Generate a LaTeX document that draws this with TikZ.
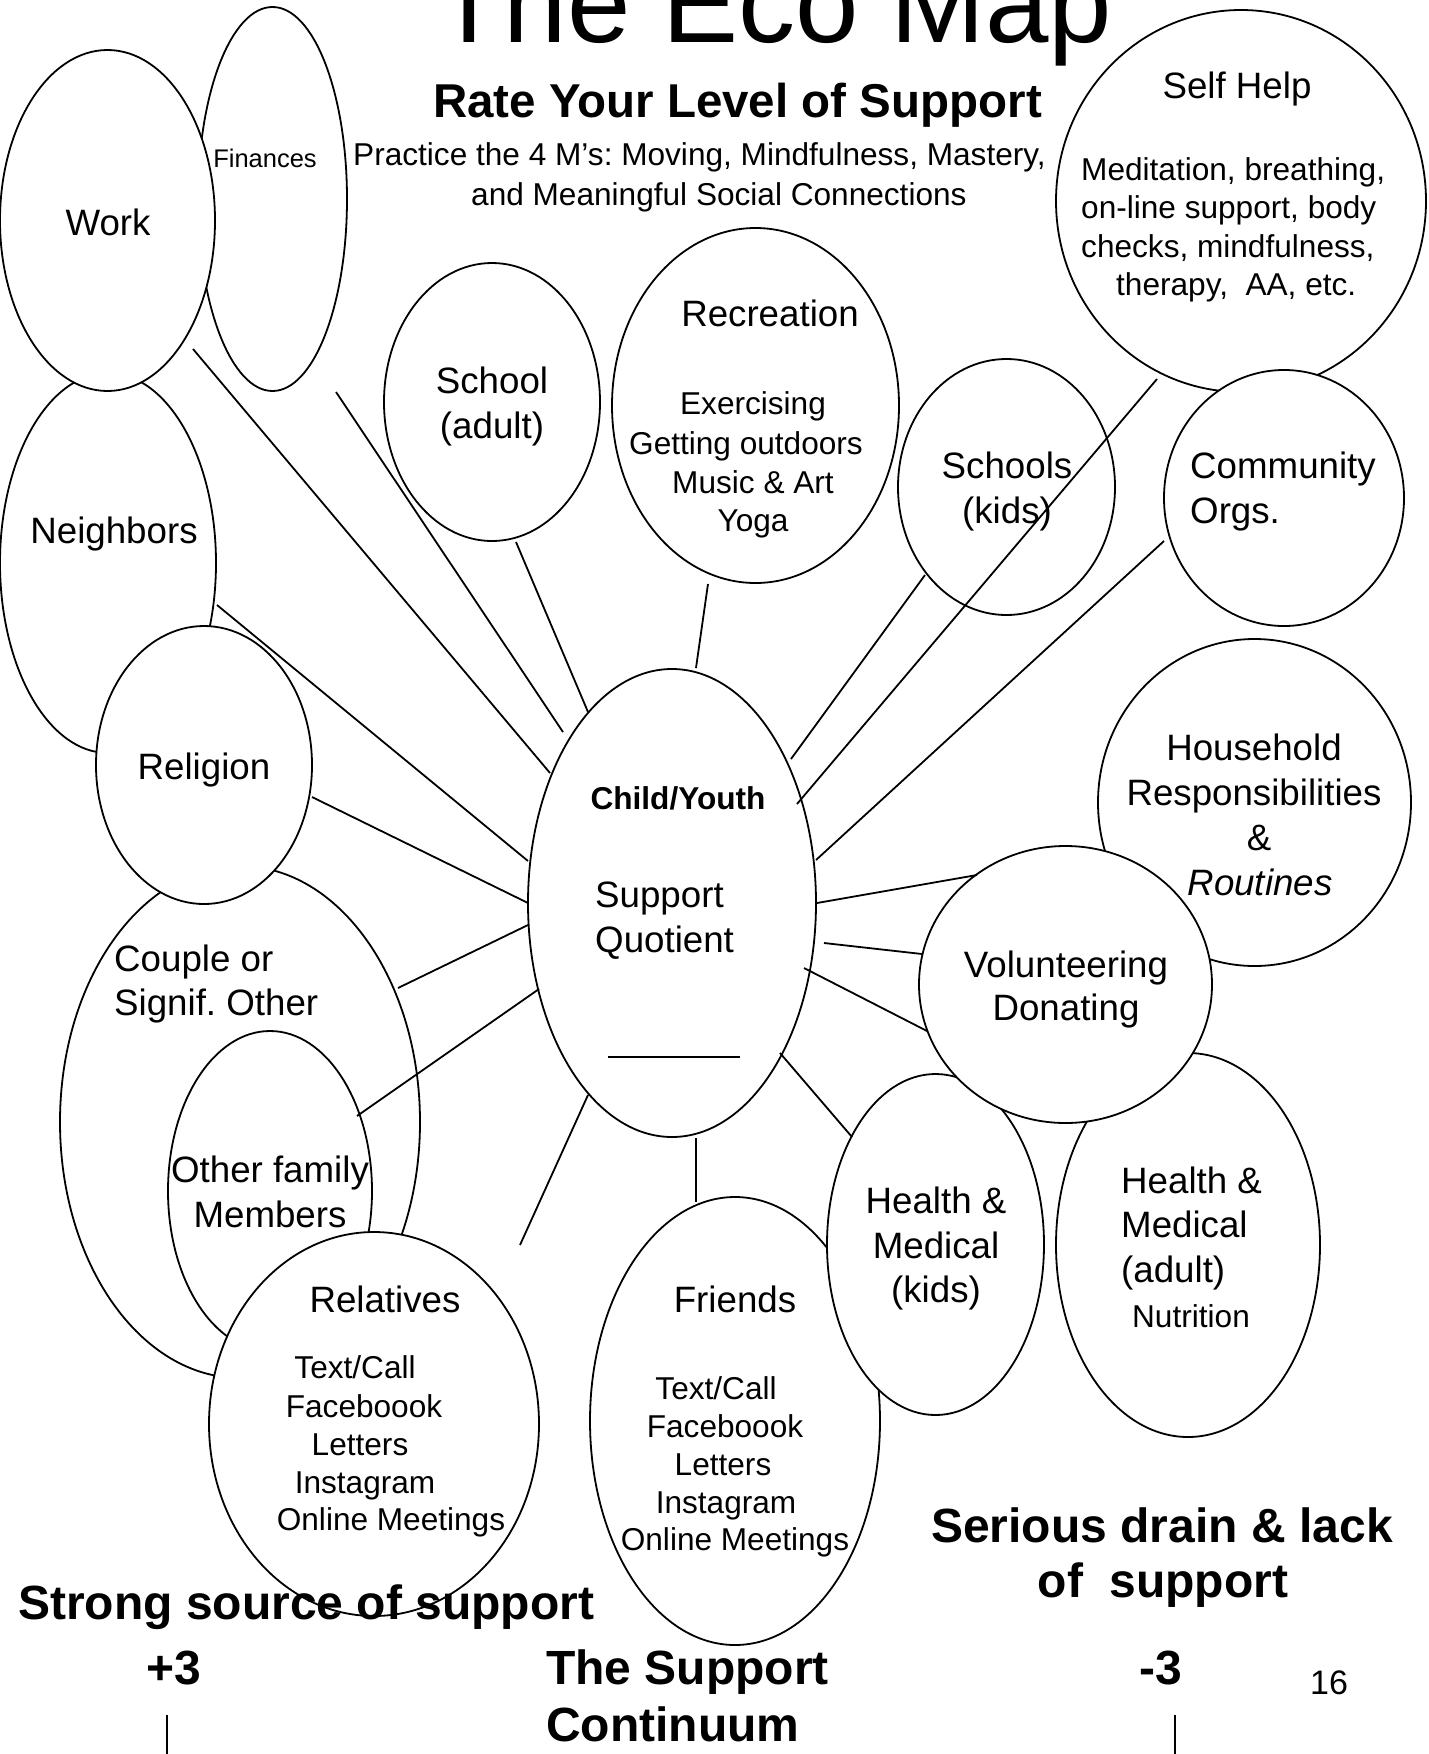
\documentclass[tikz,border=0pt]{standalone}
\usepackage{fontspec}
\setmainfont{Liberation Sans}
\usetikzlibrary{shapes.geometric}
\tikzset{
  ell/.style={ellipse, draw, fill=white, line width=1.8pt, inner sep=0pt, outer sep=0pt},
  conn/.style={line width=1.8pt},
  hd/.style={font=\fontsize{36.7}{44}\selectfont, inner sep=0pt, anchor=base},
  hdl/.style={hd, anchor=base west},
  bd/.style={font=\fontsize{31.6}{38}\selectfont, inner sep=0pt, anchor=base},
  bdl/.style={bd, anchor=base west},
  bigb/.style={font=\fontsize{48}{56}\selectfont\bfseries, inner sep=0pt, anchor=base},
}
\frenchspacing
\begin{document}
\begin{tikzpicture}[x=1pt,y=-1pt]
\useasboundingbox (0,0) rectangle (1428,1754);
\fill[white] (0,0) rectangle (1428,1754);

% ellipses (back to front)
\node[ell, minimum width=149, minimum height=384] (finances) at (272.5,199) {};
\node[ell, minimum width=216, minimum height=380] (neighbors) at (108,563) {};
\node[ell, minimum width=215, minimum height=341] (work) at (107.5,220.5) {};
\node[ell, minimum width=360, minimum height=512] (couple) at (240,1122) {};
\node[ell, minimum width=216, minimum height=278] (religion) at (204,765) {};
\node[ell, minimum width=204, minimum height=320] (otherfam) at (270,1191) {};
\node[ell, minimum width=330, minimum height=384] (relatives) at (374,1424) {};
\node[ell, minimum width=370, minimum height=382] (selfhelp) at (1241,201) {};
\node[ell, minimum width=240, minimum height=256] (community) at (1284,498) {};
\node[ell, minimum width=313, minimum height=327] (household) at (1254.5,802.5) {};
\node[ell, minimum width=217, minimum height=256] (schoolskids) at (1006.5,487) {};
\node[ell, minimum width=216, minimum height=278] (schooladult) at (492,402) {};
\node[ell, minimum width=287, minimum height=355] (recreation) at (755.5,405.5) {};
\node[ell, minimum width=290, minimum height=448] (friends) at (735,1421) {};
\node[ell, minimum width=264, minimum height=384] (healthadult) at (1188,1245) {};
\node[ell, minimum width=217, minimum height=341] (healthkids) at (935.5,1244.5) {};
\node[ell, minimum width=293, minimum height=277] (volunteer) at (1065.5,984.5) {};
\node[ell, minimum width=288, minimum height=468] (child) at (672,903) {};

% connector end points
\coordinate (wk1) at (193,349);   \coordinate (wk2) at (550,773);
\coordinate (fi1) at (336,392);   \coordinate (fi2) at (563,732);
\coordinate (sa1) at (516,542);   \coordinate (sa2) at (588,712);
\coordinate (re1) at (708,584);   \coordinate (re2) at (696,668);
\coordinate (sk1) at (925,575);   \coordinate (sk2) at (791,759);
\coordinate (sh1) at (1157,379);  \coordinate (sh2) at (797,804);
\coordinate (co1) at (1164,541);  \coordinate (co2) at (816,860);
\coordinate (ho1) at (977,875);   \coordinate (ho2) at (817,903);
\coordinate (va1) at (922,954);   \coordinate (va2) at (824,943);
\coordinate (vb1) at (927,1031);  \coordinate (vb2) at (804,968);
\coordinate (hk1) at (852,1137);  \coordinate (hk2) at (780,1053);
\coordinate (fr1) at (696,1202);  \coordinate (fr2) at (696,1138);
\coordinate (fe1) at (588,1095);  \coordinate (fe2) at (520,1245);
\coordinate (of1) at (357,1116);  \coordinate (of2) at (539,989);
\coordinate (cp1) at (398,988);   \coordinate (cp2) at (528,925);
\coordinate (rl1) at (312,797);   \coordinate (rl2) at (528,903);
\coordinate (nb1) at (217,605);   \coordinate (nb2) at (528,861);

\foreach \a/\b in {wk1/wk2, fi1/fi2, sa1/sa2, re1/re2, sk1/sk2, sh1/sh2, co1/co2,
  ho1/ho2, va1/va2, vb1/vb2, hk1/hk2, fr1/fr2, fe2/fe1, of1/of2, cp1/cp2, rl1/rl2, nb1/nb2}
  \draw[conn] (\a) -- (\b);

% title block
\node[font=\fontsize{114}{120}\selectfont, inner sep=0pt, anchor=base] (title) at (773,42) {The Eco Map};
\node[font=\fontsize{47.5}{56}\selectfont\bfseries, inner sep=0pt, anchor=base] (rate) at (737.5,117) {Rate Your Level of Support};
\node[bdl] (prac1) at (353,165) {Practice the 4 M’s: Moving, Mindfulness, Mastery,};
\node[bdl] (prac2) at (471,205) {and Meaningful Social Connections};

% texts in ellipses
\node[hd] (work-t) at (108,235) {Work};
\node[font=\fontsize{25.5}{30}\selectfont, inner sep=0pt, anchor=base] (fin-t) at (265,167) {Finances};

\node[hd] (sh-t) at (1237,98) {Self Help};
\node[bdl] (sh-a) at (1081,180) {Meditation, breathing,};
\node[bdl] (sh-b) at (1081,218) {on-line support, body};
\node[bdl] (sh-c) at (1081,257) {checks, mindfulness,};
\node[bdl] (sh-d) at (1116,295) {therapy,~ AA, etc.};

\node[hd] (sa-t1) at (492,393) {School};
\node[hd] (sa-t2) at (492,438) {(adult)};

\node[hd] (re-t) at (770,326) {Recreation};
\node[bd] (re-a) at (753,414) {Exercising};
\node[bd] (re-b) at (746,454) {Getting outdoors};
\node[bd] (re-c) at (753,493) {Music \& Art};
\node[bd] (re-d) at (753,531) {Yoga};

\node[hd] (sk-t1) at (1007,478) {Schools};
\node[hd] (sk-t2) at (1007,523) {(kids)};

\node[hdl] (co-t1) at (1190,478) {Community};
\node[hdl] (co-t2) at (1190,523) {Orgs.};

\node[hd] (nb-t) at (114,543) {Neighbors};
\node[hd] (rl-t) at (204,779) {Religion};

\node[font=\fontsize{31.6}{38}\selectfont\bfseries, inner sep=0pt, anchor=base] (ch-t) at (678,809) {Child/Youth};
\node[hdl] (ch-a) at (595,907) {Support};
\node[hdl] (ch-b) at (595,952) {Quotient};
\coordinate (ul1) at (608,1057); \coordinate (ul2) at (740,1057);
\draw[line width=2.6pt] (ul1) -- (ul2);

\node[hd] (ho-t1) at (1254,760) {Household};
\node[hd] (ho-t2) at (1254,805) {Responsibilities};
\node[hd] (ho-t3) at (1259,850) {\&};
\node[hd] (ho-t4) at (1260,895) {\itshape Routines};

\node[hd] (vo-t1) at (1066,977) {Volunteering};
\node[hd] (vo-t2) at (1066,1020) {Donating};

\node[hdl] (cp-t1) at (114,971) {Couple or};
\node[hdl] (cp-t2) at (114,1015) {Signif. Other};

\node[hd] (of-t1) at (270,1182) {Other family};
\node[hd] (of-t2) at (270,1227) {Members};

\node[hd] (rv-t) at (385,1312) {Relatives};
\node[bd] (rv-a) at (355,1378) {Text/Call};
\node[bd] (rv-b) at (364,1417) {Faceboook};
\node[bd] (rv-c) at (360,1455) {Letters};
\node[bd] (rv-d) at (365,1493) {Instagram};
\node[bd] (rv-e) at (391,1530) {Online Meetings};

\node[hd] (fr-t) at (735,1312) {Friends};
\node[bd] (fr-a) at (716,1399) {Text/Call};
\node[bd] (fr-b) at (725,1437) {Faceboook};
\node[bd] (fr-c) at (723,1475) {Letters};
\node[bd] (fr-d) at (726,1513) {Instagram};
\node[bd] (fr-e) at (735,1550) {Online Meetings};

\node[hd] (hk-t1) at (936,1213) {Health \&};
\node[hd] (hk-t2) at (936,1258) {Medical};
\node[hd] (hk-t3) at (936,1302) {(kids)};

\node[hdl] (ha-t1) at (1121,1193) {Health \&};
\node[hdl] (ha-t2) at (1121,1237) {Medical};
\node[hdl] (ha-t3) at (1121,1282) {(adult)};
\node[bd] (ha-t4) at (1191,1327) {Nutrition};

% bottom: support continuum
\node[font=\fontsize{48}{56}\selectfont\bfseries, inner sep=0pt, anchor=base west] (strong) at (18,1619) {Strong source of support};
\node[bigb] (plus) at (174,1684) {+3};
\node[bigb, anchor=base west] (cont1) at (546,1684) {The Support};
\node[bigb, anchor=base west] (cont2) at (546,1741) {Continuum};
\node[bigb] (minus) at (1161,1684) {-3};
\node[font=\fontsize{34}{40}\selectfont, inner sep=0pt, anchor=base] (page) at (1329,1694) {16};
\node[bigb] (drain1) at (1162,1542) {Serious drain \& lack};
\node[bigb] (drain2) at (1163,1597) {of~ support};

\coordinate (pl1) at (167,1715); \coordinate (pl2) at (167,1754);
\coordinate (mi1) at (1175,1715); \coordinate (mi2) at (1175,1754);
\draw[conn] (pl1) -- (pl2);
\draw[conn] (mi1) -- (mi2);
\end{tikzpicture}
\end{document}
